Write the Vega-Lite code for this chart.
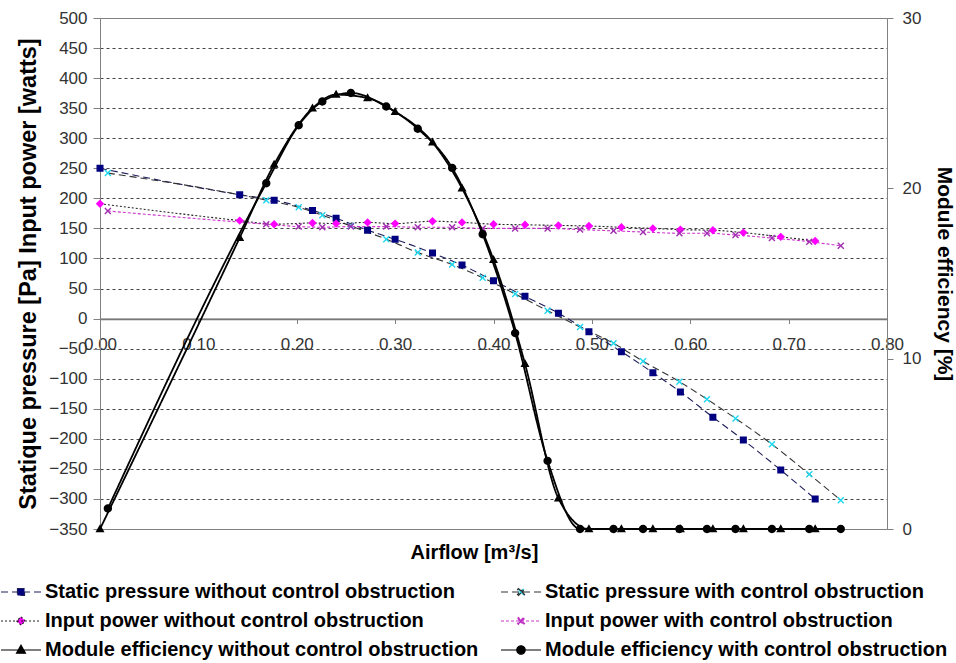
{
  "$schema": "https://vega.github.io/schema/vega-lite/v6.json",
  "width": 787,
  "height": 511,
  "autosize": {"type": "none"},
  "padding": {"left": 100, "top": 18, "right": 69, "bottom": 134},
  "background": "white",
  "config": {
    "font": "Liberation Sans",
    "view": {"stroke": "#808080", "strokeWidth": 1},
    "axis": {
      "labelFont": "Liberation Sans",
      "labelFontSize": 17,
      "labelColor": "#333333",
      "titleFont": "Liberation Sans",
      "titleFontSize": 20,
      "titleFontWeight": "bold",
      "titleColor": "#000000",
      "domainColor": "#808080",
      "tickColor": "#808080",
      "labelOverlap": false,
      "labelFlush": false
    }
  },
  "datasets": {
    "fan": [
      {"series": "Static pressure without control obstruction", "airflow": 0.000, "value": 250},
      {"series": "Static pressure without control obstruction", "airflow": 0.142, "value": 206},
      {"series": "Static pressure without control obstruction", "airflow": 0.177, "value": 197},
      {"series": "Static pressure without control obstruction", "airflow": 0.216, "value": 180},
      {"series": "Static pressure without control obstruction", "airflow": 0.240, "value": 167},
      {"series": "Static pressure without control obstruction", "airflow": 0.272, "value": 147},
      {"series": "Static pressure without control obstruction", "airflow": 0.300, "value": 132},
      {"series": "Static pressure without control obstruction", "airflow": 0.338, "value": 109},
      {"series": "Static pressure without control obstruction", "airflow": 0.368, "value": 89},
      {"series": "Static pressure without control obstruction", "airflow": 0.400, "value": 63},
      {"series": "Static pressure without control obstruction", "airflow": 0.432, "value": 37},
      {"series": "Static pressure without control obstruction", "airflow": 0.466, "value": 9},
      {"series": "Static pressure without control obstruction", "airflow": 0.497, "value": -22},
      {"series": "Static pressure without control obstruction", "airflow": 0.530, "value": -55},
      {"series": "Static pressure without control obstruction", "airflow": 0.562, "value": -90},
      {"series": "Static pressure without control obstruction", "airflow": 0.590, "value": -122},
      {"series": "Static pressure without control obstruction", "airflow": 0.623, "value": -164},
      {"series": "Static pressure without control obstruction", "airflow": 0.654, "value": -202},
      {"series": "Static pressure without control obstruction", "airflow": 0.692, "value": -252},
      {"series": "Static pressure without control obstruction", "airflow": 0.727, "value": -300},

      {"series": "Static pressure with control obstruction", "airflow": 0.008, "value": 242},
      {"series": "Static pressure with control obstruction", "airflow": 0.169, "value": 197},
      {"series": "Static pressure with control obstruction", "airflow": 0.202, "value": 185},
      {"series": "Static pressure with control obstruction", "airflow": 0.226, "value": 172},
      {"series": "Static pressure with control obstruction", "airflow": 0.255, "value": 154},
      {"series": "Static pressure with control obstruction", "airflow": 0.291, "value": 132},
      {"series": "Static pressure with control obstruction", "airflow": 0.323, "value": 110},
      {"series": "Static pressure with control obstruction", "airflow": 0.358, "value": 90},
      {"series": "Static pressure with control obstruction", "airflow": 0.389, "value": 68},
      {"series": "Static pressure with control obstruction", "airflow": 0.422, "value": 41},
      {"series": "Static pressure with control obstruction", "airflow": 0.455, "value": 13},
      {"series": "Static pressure with control obstruction", "airflow": 0.488, "value": -14},
      {"series": "Static pressure with control obstruction", "airflow": 0.522, "value": -41},
      {"series": "Static pressure with control obstruction", "airflow": 0.552, "value": -71},
      {"series": "Static pressure with control obstruction", "airflow": 0.589, "value": -105},
      {"series": "Static pressure with control obstruction", "airflow": 0.617, "value": -134},
      {"series": "Static pressure with control obstruction", "airflow": 0.646, "value": -166},
      {"series": "Static pressure with control obstruction", "airflow": 0.683, "value": -209},
      {"series": "Static pressure with control obstruction", "airflow": 0.721, "value": -259},
      {"series": "Static pressure with control obstruction", "airflow": 0.753, "value": -302},

      {"series": "Input power without control obstruction", "airflow": 0.000, "value": 191},
      {"series": "Input power without control obstruction", "airflow": 0.142, "value": 163},
      {"series": "Input power without control obstruction", "airflow": 0.177, "value": 157},
      {"series": "Input power without control obstruction", "airflow": 0.216, "value": 159},
      {"series": "Input power without control obstruction", "airflow": 0.240, "value": 158},
      {"series": "Input power without control obstruction", "airflow": 0.272, "value": 160},
      {"series": "Input power without control obstruction", "airflow": 0.300, "value": 158},
      {"series": "Input power without control obstruction", "airflow": 0.338, "value": 162},
      {"series": "Input power without control obstruction", "airflow": 0.368, "value": 160},
      {"series": "Input power without control obstruction", "airflow": 0.400, "value": 157},
      {"series": "Input power without control obstruction", "airflow": 0.432, "value": 156},
      {"series": "Input power without control obstruction", "airflow": 0.466, "value": 155},
      {"series": "Input power without control obstruction", "airflow": 0.497, "value": 154},
      {"series": "Input power without control obstruction", "airflow": 0.530, "value": 152},
      {"series": "Input power without control obstruction", "airflow": 0.562, "value": 150},
      {"series": "Input power without control obstruction", "airflow": 0.590, "value": 148},
      {"series": "Input power without control obstruction", "airflow": 0.623, "value": 147},
      {"series": "Input power without control obstruction", "airflow": 0.654, "value": 143},
      {"series": "Input power without control obstruction", "airflow": 0.692, "value": 136},
      {"series": "Input power without control obstruction", "airflow": 0.727, "value": 129},

      {"series": "Input power with control obstruction", "airflow": 0.008, "value": 179},
      {"series": "Input power with control obstruction", "airflow": 0.169, "value": 157},
      {"series": "Input power with control obstruction", "airflow": 0.202, "value": 153},
      {"series": "Input power with control obstruction", "airflow": 0.226, "value": 152},
      {"series": "Input power with control obstruction", "airflow": 0.255, "value": 153},
      {"series": "Input power with control obstruction", "airflow": 0.291, "value": 153},
      {"series": "Input power with control obstruction", "airflow": 0.323, "value": 152},
      {"series": "Input power with control obstruction", "airflow": 0.358, "value": 152},
      {"series": "Input power with control obstruction", "airflow": 0.389, "value": 150},
      {"series": "Input power with control obstruction", "airflow": 0.422, "value": 150},
      {"series": "Input power with control obstruction", "airflow": 0.455, "value": 150},
      {"series": "Input power with control obstruction", "airflow": 0.488, "value": 148},
      {"series": "Input power with control obstruction", "airflow": 0.522, "value": 146},
      {"series": "Input power with control obstruction", "airflow": 0.552, "value": 144},
      {"series": "Input power with control obstruction", "airflow": 0.589, "value": 142},
      {"series": "Input power with control obstruction", "airflow": 0.617, "value": 142},
      {"series": "Input power with control obstruction", "airflow": 0.646, "value": 139},
      {"series": "Input power with control obstruction", "airflow": 0.683, "value": 134},
      {"series": "Input power with control obstruction", "airflow": 0.721, "value": 128},
      {"series": "Input power with control obstruction", "airflow": 0.753, "value": 121}
    ],
    "efficiency": [
      {"series": "Module efficiency without control obstruction", "airflow": 0.000, "value": 0},
      {"series": "Module efficiency without control obstruction", "airflow": 0.142, "value": 17.1},
      {"series": "Module efficiency without control obstruction", "airflow": 0.177, "value": 21.4},
      {"series": "Module efficiency without control obstruction", "airflow": 0.216, "value": 24.7},
      {"series": "Module efficiency without control obstruction", "airflow": 0.240, "value": 25.5},
      {"series": "Module efficiency without control obstruction", "airflow": 0.272, "value": 25.3},
      {"series": "Module efficiency without control obstruction", "airflow": 0.300, "value": 24.5},
      {"series": "Module efficiency without control obstruction", "airflow": 0.338, "value": 22.7},
      {"series": "Module efficiency without control obstruction", "airflow": 0.368, "value": 20.0},
      {"series": "Module efficiency without control obstruction", "airflow": 0.400, "value": 15.8},
      {"series": "Module efficiency without control obstruction", "airflow": 0.432, "value": 9.7},
      {"series": "Module efficiency without control obstruction", "airflow": 0.466, "value": 1.8},
      {"series": "Module efficiency without control obstruction", "airflow": 0.497, "value": 0},
      {"series": "Module efficiency without control obstruction", "airflow": 0.530, "value": 0},
      {"series": "Module efficiency without control obstruction", "airflow": 0.562, "value": 0},
      {"series": "Module efficiency without control obstruction", "airflow": 0.590, "value": 0},
      {"series": "Module efficiency without control obstruction", "airflow": 0.623, "value": 0},
      {"series": "Module efficiency without control obstruction", "airflow": 0.654, "value": 0},
      {"series": "Module efficiency without control obstruction", "airflow": 0.692, "value": 0},
      {"series": "Module efficiency without control obstruction", "airflow": 0.727, "value": 0},

      {"series": "Module efficiency with control obstruction", "airflow": 0.008, "value": 1.2},
      {"series": "Module efficiency with control obstruction", "airflow": 0.169, "value": 20.3},
      {"series": "Module efficiency with control obstruction", "airflow": 0.202, "value": 23.7},
      {"series": "Module efficiency with control obstruction", "airflow": 0.226, "value": 25.1},
      {"series": "Module efficiency with control obstruction", "airflow": 0.255, "value": 25.6},
      {"series": "Module efficiency with control obstruction", "airflow": 0.291, "value": 24.8},
      {"series": "Module efficiency with control obstruction", "airflow": 0.323, "value": 23.5},
      {"series": "Module efficiency with control obstruction", "airflow": 0.358, "value": 21.2},
      {"series": "Module efficiency with control obstruction", "airflow": 0.389, "value": 17.3},
      {"series": "Module efficiency with control obstruction", "airflow": 0.422, "value": 11.5},
      {"series": "Module efficiency with control obstruction", "airflow": 0.455, "value": 4.0},
      {"series": "Module efficiency with control obstruction", "airflow": 0.488, "value": 0},
      {"series": "Module efficiency with control obstruction", "airflow": 0.522, "value": 0},
      {"series": "Module efficiency with control obstruction", "airflow": 0.552, "value": 0},
      {"series": "Module efficiency with control obstruction", "airflow": 0.589, "value": 0},
      {"series": "Module efficiency with control obstruction", "airflow": 0.617, "value": 0},
      {"series": "Module efficiency with control obstruction", "airflow": 0.646, "value": 0},
      {"series": "Module efficiency with control obstruction", "airflow": 0.683, "value": 0},
      {"series": "Module efficiency with control obstruction", "airflow": 0.721, "value": 0},
      {"series": "Module efficiency with control obstruction", "airflow": 0.753, "value": 0}
    ]
  },
  "layer": [
    {
      "data": {"name": "fan"},
      "encoding": {
        "x": {
          "field": "airflow",
          "type": "quantitative",
          "scale": {"domain": [0, 0.8], "nice": false, "zero": false},
          "axis": {
            "orient": "bottom",
            "offset": -210.5,
            "values": [0, 0.1, 0.2, 0.3, 0.4, 0.5, 0.6, 0.7, 0.8],
            "format": ".2f",
            "grid": false,
            "domain": true,
            "domainColor": "#808080",
            "ticks": true,
            "tickColor": "#808080",
            "tickSize": 5,
            "labelPadding": 21,
            "labelBaseline": "middle",
            "title": "Airflow [m³/s]",
            "titleX": 374,
            "titleY": 233.5,
            "titleAlign": "center",
            "titleBaseline": "middle"
          }
        },
        "y": {
          "field": "value",
          "type": "quantitative",
          "scale": {"domain": [-350, 500], "nice": false, "zero": false},
          "axis": {
            "orient": "left",
            "values": [-350, -300, -250, -200, -150, -100, -50, 0, 50, 100, 150, 200, 250, 300, 350, 400, 450, 500],
            "grid": true,
            "gridColor": {"condition": {"test": "datum.value === 0", "value": "#707070"}, "value": "#444444"},
            "gridDash": {"condition": {"test": "datum.value === 0", "value": []}, "value": [3, 3]},
            "gridWidth": {"condition": {"test": "datum.value === 0", "value": 1.3}, "value": 1},
            "gridOpacity": {"condition": {"test": "datum.value === 500 || datum.value === -350", "value": 0}, "value": 1},
            "tickSize": 7,
            "labelPadding": 6,
            "title": "Statique pressure [Pa] Input power [watts]",
            "titleFontSize": 23.5,
            "titlePadding": 8
          }
        }
      },
      "layer": [
        {
          "mark": {"type": "line", "interpolate": "monotone", "strokeWidth": 1.1},
          "encoding": {
            "stroke": {
              "field": "series", "type": "nominal",
              "scale": {
                "domain": ["Static pressure without control obstruction", "Static pressure with control obstruction", "Input power without control obstruction", "Input power with control obstruction", "Module efficiency without control obstruction", "Module efficiency with control obstruction"],
                "range": ["#1C1C5A", "#333333", "#222222", "#CC33CC", "#000000", "#000000"]
              }
            },
            "strokeDash": {
              "field": "series", "type": "nominal",
              "scale": {
                "domain": ["Static pressure without control obstruction", "Static pressure with control obstruction", "Input power without control obstruction", "Input power with control obstruction", "Module efficiency without control obstruction", "Module efficiency with control obstruction"],
                "range": [[7, 4], [7, 4], [2, 2], [3, 2], [1, 0], [1, 0]]
              }
            }
          }
        },
        {
          "mark": {"type": "point", "filled": true, "opacity": 1, "size": 400},
          "encoding": {
            "fill": {
              "field": "series", "type": "nominal",
              "scale": {
                "domain": ["Static pressure without control obstruction", "Static pressure with control obstruction", "Input power without control obstruction", "Input power with control obstruction", "Module efficiency without control obstruction", "Module efficiency with control obstruction"],
                "range": ["#000080", "#1ED8F0", "#FF00FF", "#A030B0", "#000000", "#000000"]
              },
              "legend": {
                "title": null,
                "orient": "none",
                "legendX": -90,
                "legendY": 563,
                "direction": "horizontal",
                "columns": 2,
                "labelFont": "Liberation Sans",
                "labelFontSize": 20,
                "labelFontWeight": "bold",
                "labelColor": "#000000",
                "labelLimit": 600,
                "labelOffset": 13,
                "symbolSize": 400,
                "symbolStrokeWidth": 1.2,
                "symbolOpacity": 1,
                "columnPadding": 19,
                "rowPadding": 8
              }
            },
            "shape": {
              "field": "series", "type": "nominal",
              "scale": {
                "domain": ["Static pressure without control obstruction", "Static pressure with control obstruction", "Input power without control obstruction", "Input power with control obstruction", "Module efficiency without control obstruction", "Module efficiency with control obstruction"],
                "range": [
                  "M-2,0H2M-0.35,-0.35H0.35V0.35H-0.35Z",
                  "M-2,0H2M-0.35,-0.25L-0.25,-0.35L0,-0.1L0.25,-0.35L0.35,-0.25L0.1,0L0.35,0.25L0.25,0.35L0,0.1L-0.25,0.35L-0.35,0.25L-0.1,0Z",
                  "M-2,0H2M0,-0.42L0.42,0L0,0.42L-0.42,0Z",
                  "M-2,0H2M-0.35,-0.25L-0.25,-0.35L0,-0.1L0.25,-0.35L0.35,-0.25L0.1,0L0.35,0.25L0.25,0.35L0,0.1L-0.25,0.35L-0.35,0.25L-0.1,0Z",
                  "M-2,0H2M0,-0.48L0.45,0.32L-0.45,0.32Z",
                  "M-2,0H2M0.42,0A0.42,0.42,0,1,1,-0.42,0A0.42,0.42,0,1,1,0.42,0Z"
                ]
              }
            }
          }
        }
      ]
    },
    {
      "data": {"name": "efficiency"},
      "encoding": {
        "x": {"field": "airflow", "type": "quantitative"},
        "y": {
          "field": "value",
          "type": "quantitative",
          "scale": {"domain": [0, 30], "nice": false, "zero": false},
          "axis": {
            "orient": "right",
            "values": [0, 10, 20, 30],
            "grid": false,
            "tickSize": 6,
            "labelPadding": 9,
            "title": "Module efficiency [%]",
            "titleFontSize": 21,
            "titlePadding": 13
          }
        }
      },
      "layer": [
        {
          "mark": {"type": "line", "interpolate": "monotone", "strokeWidth": 1.8},
          "encoding": {
            "stroke": {"field": "series", "type": "nominal"},
            "strokeDash": {"field": "series", "type": "nominal"}
          }
        },
        {
          "mark": {"type": "point", "filled": true, "opacity": 1, "size": 400},
          "encoding": {
            "fill": {"field": "series", "type": "nominal"},
            "shape": {"field": "series", "type": "nominal"}
          }
        }
      ]
    }
  ],
  "resolve": {"scale": {"y": "independent"}}
}
